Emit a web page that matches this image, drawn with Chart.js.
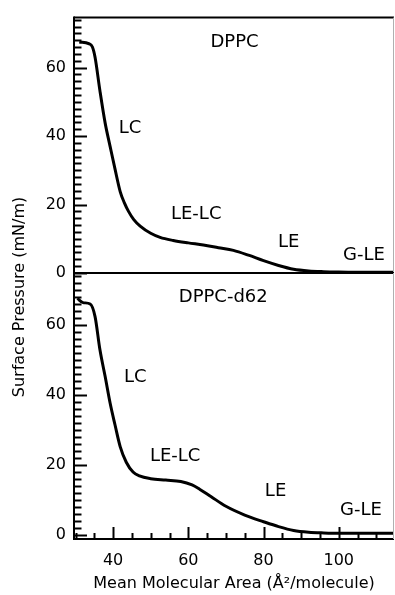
<!DOCTYPE html>
<html>
<head>
<meta charset="utf-8">
<script src="https://cdn.jsdelivr.net/npm/chart.js@4.4.0/dist/chart.umd.min.js"></script>
<style>
    html, body { margin: 0; padding: 0; background: #ffffff; }
    #wrap { position: relative; width: 395px; height: 595px; }
    #wrap canvas { position: absolute; left: 0; top: 0; }
</style>
</head>
<body>
<div id="wrap">
    <canvas id="topChart" width="395" height="595"></canvas>
    <canvas id="bottomChart" width="395" height="595"></canvas>
</div>
<script>
(function () {
    // DPPC isotherm (top panel)
    const areaDPPC = [31, 33.5, 34.5, 35.2, 36.5, 37.9, 39.2, 40.5, 41.9, 43, 44.1, 45.5, 47.2, 50, 52.5, 56, 60, 64, 68, 72, 76, 80, 84, 88, 92, 96, 100, 108, 115];
    const pressureDPPC = [67.5, 67, 66, 63, 53.2, 43.7, 37, 30.4, 23.7, 20.5, 18, 15.6, 13.7, 11.6, 10.4, 9.5, 8.8, 8.2, 7.4, 6.6, 5.2, 3.6, 2.2, 1.1, 0.6, 0.4, 0.3, 0.2, 0.2];

    // DPPC-d62 isotherm (bottom panel)
    const areaD62 = [30.5, 32, 33.9, 35.2, 36.5, 37.9, 39.2, 40.5, 41.9, 43.5, 45.3, 47, 50, 54, 58, 61, 63, 66, 70, 75, 80, 84, 88, 92, 96, 100, 108, 115];
    const pressureD62 = [67.6, 66.4, 66, 62.4, 52.9, 45.2, 37.7, 31.5, 25.2, 20.8, 18, 16.9, 16.1, 15.7, 15.3, 14.3, 13.1, 11, 8.2, 5.7, 3.8, 2.4, 1.3, 0.8, 0.6, 0.5, 0.5, 0.5];

    // Tick labels
    const xTickValues = [40, 60, 80, 100];
    const yTickValues = [0, 20, 40, 60];

    // Phase labels (text + where they sit in data units)
    const phaseNamesDPPC = ['DPPC', 'LC', 'LE-LC', 'LE', 'G-LE'];
    const phaseAreasDPPC = [72.3, 44.5, 62.1, 86.7, 106.7];
    const phasePressDPPC = [67.4, 42.3, 17.1, 9.1, 5.1];

    const phaseNamesD62 = ['DPPC-d62', 'LC', 'LE-LC', 'LE', 'G-LE'];
    const phaseAreasD62 = [69.3, 45.9, 56.5, 83.2, 105.9];
    const phasePressD62 = [68, 45.1, 22.4, 12.4, 7.1];

    const FONT = '"DejaVu Sans", Verdana, sans-serif';
    const X_MIN = 29.6;
    const X_MAX = 114.7;
    const AXIS_W = 74;

    // Frame, inward ticks and phase labels
    const framePlugin = {
        id: 'frame',
        afterDraw(chart, args, opts) {
            const ctx = chart.ctx;
            const area = chart.chartArea;
            const xs = chart.scales.x;
            const ys = chart.scales.y;

            ctx.save();
            ctx.strokeStyle = '#000000';
            ctx.lineWidth = 2;

            // y minor/major ticks pointing inward
            for (let v = 0; v <= ys.max; v += 2) {
                const py = Math.round(ys.getPixelForValue(v)) + 0.5;
                const len = v % 20 === 0 ? 13 : 7.5;
                ctx.beginPath();
                ctx.moveTo(area.left, py);
                ctx.lineTo(area.left + len, py);
                ctx.stroke();
            }

            // x ticks only on the bottom panel
            if (opts.xTicks) {
                for (let v = 30; v <= X_MAX; v += 5) {
                    const px = Math.round(xs.getPixelForValue(v)) + 0.5;
                    const len = v % 20 === 0 ? 12 : 6;
                    ctx.beginPath();
                    ctx.moveTo(px, area.bottom);
                    ctx.lineTo(px, area.bottom - len);
                    ctx.stroke();
                }
            }

            // left axis
            ctx.beginPath();
            ctx.moveTo(area.left, area.top - 1);
            ctx.lineTo(area.left, area.bottom + 1);
            ctx.stroke();

            // top / bottom lines
            ctx.beginPath();
            ctx.moveTo(area.left, area.top);
            ctx.lineTo(area.right, area.top);
            ctx.moveTo(area.left, area.bottom);
            ctx.lineTo(area.right, area.bottom);
            ctx.stroke();

            // right edge, light grey
            ctx.strokeStyle = '#b0b0b0';
            ctx.lineWidth = 1;
            ctx.beginPath();
            ctx.moveTo(area.right - 0.5, area.top);
            ctx.lineTo(area.right - 0.5, area.bottom);
            ctx.stroke();

            // phase labels
            ctx.fillStyle = '#000000';
            ctx.font = '18px ' + FONT;
            ctx.textAlign = 'center';
            ctx.textBaseline = 'middle';
            opts.names.forEach((name, i) => {
                ctx.fillText(name, xs.getPixelForValue(opts.areas[i]), ys.getPixelForValue(opts.press[i]));
            });

            // shared y title
            if (opts.yTitle) {
                ctx.font = '16px ' + FONT;
                ctx.translate(20, 297);
                ctx.rotate(-Math.PI / 2);
                ctx.fillText(opts.yTitle, 0, 0);
            }
            ctx.restore();
        }
    };

    function makePoints(xArr, yArr) {
        return xArr.map((x, i) => ({ x: x, y: yArr[i] }));
    }

    function createPanel(canvasId, cfg) {
        const ctx = document.getElementById(canvasId).getContext('2d');
        return new Chart(ctx, {
            type: 'line',
            data: {
                datasets: [{
                    data: makePoints(cfg.xData, cfg.yData),
                    borderColor: '#000000',
                    borderWidth: 3,
                    pointRadius: 0,
                    fill: false,
                    cubicInterpolationMode: 'monotone'
                }]
            },
            plugins: [framePlugin],
            options: {
                responsive: false,
                animation: false,
                devicePixelRatio: 1,
                layout: { padding: cfg.padding },
                plugins: {
                    legend: { display: false },
                    tooltip: { enabled: false },
                    frame: {
                        names: cfg.names,
                        areas: cfg.areas,
                        press: cfg.press,
                        xTicks: cfg.showX,
                        yTitle: cfg.yTitle
                    }
                },
                scales: {
                    x: {
                        type: 'linear',
                        min: X_MIN,
                        max: X_MAX,
                        display: cfg.showX,
                        afterBuildTicks: (scale) => {
                            scale.ticks = xTickValues.map(v => ({ value: v }));
                        },
                        afterFit: (scale) => {
                            if (cfg.showX) scale.height = 56;
                        },
                        grid: { display: false, drawTicks: false },
                        border: { display: false },
                        ticks: {
                            color: '#000000',
                            font: { family: FONT, size: 16 },
                            padding: 12,
                            maxRotation: 0
                        },
                        title: {
                            display: cfg.showX,
                            text: 'Mean Molecular Area (Å²/molecule)',
                            color: '#000000',
                            font: { family: FONT, size: 16 },
                            padding: { top: 0, bottom: 2 }
                        }
                    },
                    y: {
                        type: 'linear',
                        min: cfg.yMin,
                        max: cfg.yMax,
                        afterBuildTicks: (scale) => {
                            scale.ticks = yTickValues.map(v => ({ value: v }));
                        },
                        afterFit: (scale) => {
                            scale.width = AXIS_W;
                        },
                        grid: { display: false, drawTicks: false },
                        border: { display: false },
                        ticks: {
                            color: '#000000',
                            font: { family: FONT, size: 16 },
                            padding: 8
                        }
                    }
                }
            }
        });
    }

    createPanel('topChart', {
        xData: areaDPPC,
        yData: pressureDPPC,
        names: phaseNamesDPPC,
        areas: phaseAreasDPPC,
        press: phasePressDPPC,
        showX: false,
        yTitle: 'Surface Pressure (mN/m)',
        yMin: 0,
        yMax: 74.6,
        padding: { left: 0, right: 1, top: 12, bottom: 322 }
    });

    createPanel('bottomChart', {
        xData: areaD62,
        yData: pressureD62,
        names: phaseNamesD62,
        areas: phaseAreasD62,
        press: phasePressD62,
        showX: true,
        yTitle: null,
        yMin: -1.14,
        yMax: 74.86,
        padding: { left: 0, right: 1, top: 273, bottom: 0 }
    });
})();
</script>
</body>
</html>
